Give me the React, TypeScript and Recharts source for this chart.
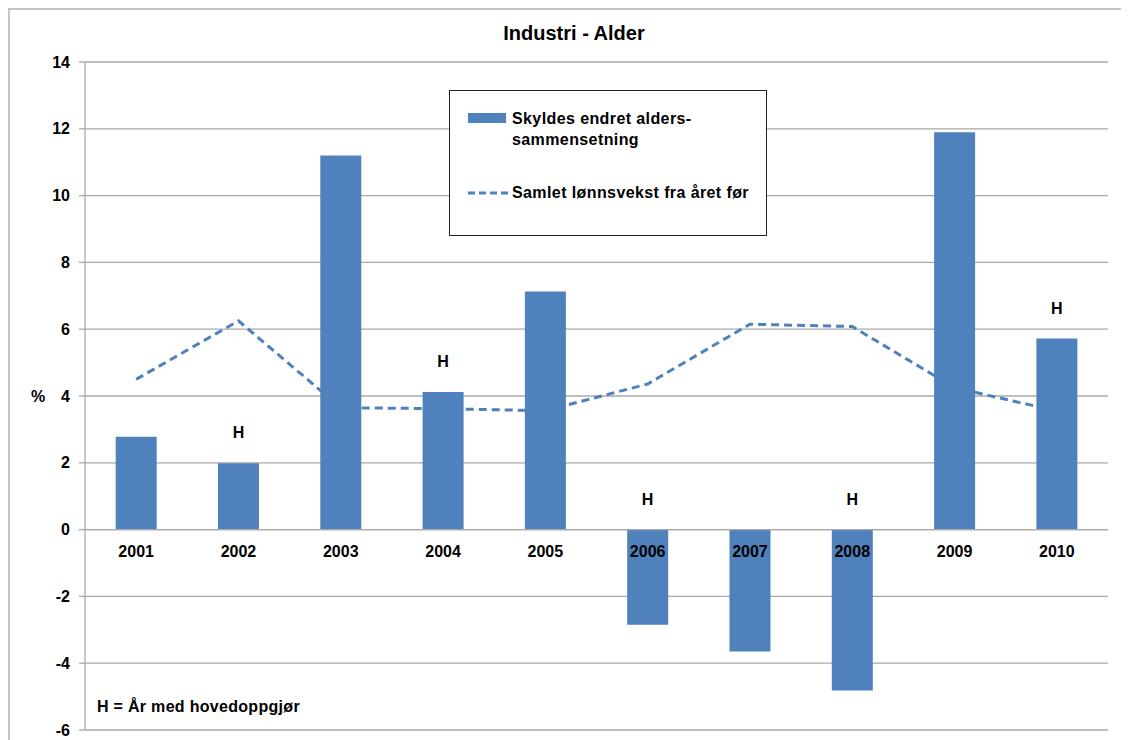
import React from 'react';
import {
  ComposedChart,
  Bar,
  Line,
  XAxis,
  YAxis,
  CartesianGrid,
  ReferenceLine,
  LabelList,
  Legend,
} from 'recharts';

const years = ['2001', '2002', '2003', '2004', '2005', '2006', '2007', '2008', '2009', '2010'];
const aldersEffekt = [2.78, 1.99, 11.2, 4.12, 7.13, -2.85, -3.65, -4.82, 11.9, 5.72];
const lonnsvekst = [4.5, 6.25, 3.65, 3.62, 3.56, 4.36, 6.15, 6.08, 4.25, 3.55];
const hovedoppgjor = ['2002', '2004', '2006', '2008', '2010'];
const yTicks = [-6, -4, -2, 0, 2, 4, 6, 8, 10, 12, 14];

const BLUE = '#4F81BD';
const GRID = '#a8a8a8';
const FONT = '"Liberation Sans", Arial, Helvetica, sans-serif';

const data = years.map((year, i) => ({
  year,
  alder: aldersEffekt[i],
  lonn: lonnsvekst[i],
  // anchor for the "H" marker: top of a positive bar, or the zero line
  hAnchor: Math.max(aldersEffekt[i], 0),
  zero: 0,
}));

const YearLabel = (props: any) => {
  const { x, y, index } = props;
  return (
    <text
      x={x}
      y={y + 27}
      textAnchor="middle"
      fontFamily={FONT}
      fontWeight="bold"
      fontSize={16}
      fill="#000"
    >
      {years[index]}
    </text>
  );
};

const HLabel = (props: any) => {
  const { x, y, index } = props;
  if (!hovedoppgjor.includes(years[index])) return null;
  return (
    <text
      x={x}
      y={y - 25}
      textAnchor="middle"
      fontFamily={FONT}
      fontWeight="bold"
      fontSize={16}
      fill="#000"
    >
      H
    </text>
  );
};

const LegendBox = () => (
  <div
    style={{
      width: 316,
      height: 144,
      border: '1px solid #222',
      background: '#fff',
      position: 'relative',
      fontFamily: FONT,
      fontWeight: 'bold',
      fontSize: 16,
      letterSpacing: 0.4,
      color: '#000',
      lineHeight: '21px',
    }}
  >
    <div style={{ position: 'absolute', left: 18, top: 22, width: 38, height: 10, background: BLUE }} />
    <div style={{ position: 'absolute', left: 62, top: 17 }}>
      Skyldes endret alders-
      <br />
      sammensetning
    </div>
    <svg style={{ position: 'absolute', left: 18, top: 99 }} width={40} height={6}>
      <line x1={0} y1={3} x2={40} y2={3} stroke={BLUE} strokeWidth={3} strokeDasharray="7 4" />
    </svg>
    <div style={{ position: 'absolute', left: 62, top: 91 }}>Samlet lønnsvekst fra året før</div>
  </div>
);

const App: React.FC = () => {
  return (
    <div
      style={{
        position: 'relative',
        width: 1121,
        height: 732,
        borderTop: '2px solid #c4c4c4',
        borderLeft: '2px solid #c4c4c4',
        boxSizing: 'border-box',
        fontFamily: FONT,
        background: '#fff',
      }}
    >
      <div
        style={{
          position: 'absolute',
          top: 12,
          left: 0,
          width: 1128,
          textAlign: 'center',
          fontWeight: 'bold',
          fontSize: 20,
        }}
      >
        Industri - Alder
      </div>
      <div style={{ position: 'absolute', left: 21, top: 378, fontWeight: 'bold', fontSize: 16 }}>%</div>
      <div
        style={{
          position: 'absolute',
          left: 87,
          top: 688,
          fontWeight: 'bold',
          fontSize: 16,
          letterSpacing: 0.3,
          zIndex: 2,
        }}
      >
        H = År med hovedoppgjør
      </div>
      <ComposedChart
        width={1119}
        height={730}
        data={data}
        margin={{ top: 52, right: 21, bottom: 10, left: 15 }}
        barCategoryGap="30%"
      >
        <CartesianGrid vertical={false} stroke={GRID} strokeWidth={1.3} />
        <XAxis dataKey="year" hide />
        <YAxis
          domain={[-6, 14]}
          ticks={yTicks}
          interval={0}
          width={60}
          axisLine={{ stroke: GRID, strokeWidth: 1.3 }}
          tickLine={{ stroke: GRID, strokeWidth: 1.3 }}
          tickSize={6}
          tickMargin={9}
          tick={{ fill: '#000', fontFamily: FONT, fontWeight: 'bold', fontSize: 16 }}
        />
        <ReferenceLine y={0} stroke={GRID} strokeWidth={1.3} />
        <Legend
          layout="vertical"
          align="center"
          verticalAlign="middle"
          wrapperStyle={{ left: 439, top: 80, width: 318 }}
          content={() => <LegendBox />}
        />
        <Line
          dataKey="lonn"
          stroke={BLUE}
          strokeWidth={3}
          strokeDasharray="8 5"
          dot={false}
          activeDot={false}
          isAnimationActive={false}
        />
        <Bar dataKey="alder" fill={BLUE} isAnimationActive={false} />
        <Line
          dataKey="hAnchor"
          stroke="none"
          dot={false}
          activeDot={false}
          legendType="none"
          isAnimationActive={false}
        >
          <LabelList content={HLabel} />
        </Line>
        <Line
          dataKey="zero"
          stroke="none"
          dot={false}
          activeDot={false}
          legendType="none"
          isAnimationActive={false}
        >
          <LabelList content={YearLabel} />
        </Line>
      </ComposedChart>
    </div>
  );
};

export default App;
